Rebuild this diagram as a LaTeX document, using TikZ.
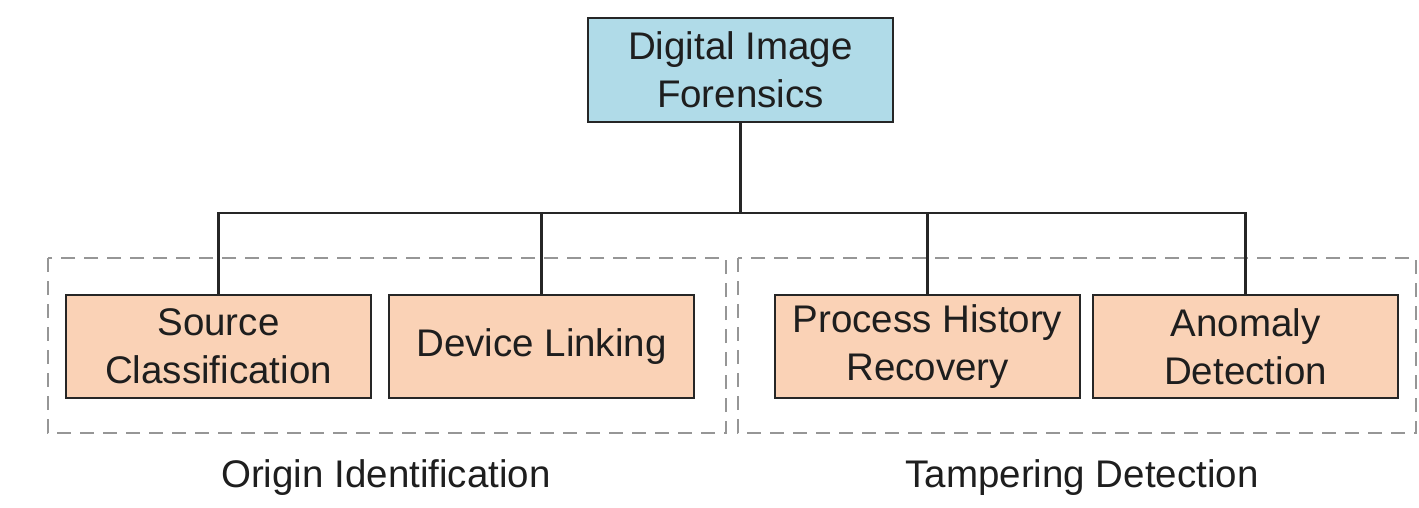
\documentclass[tikz,border=0pt]{standalone}
\usepackage{fontspec}
\setmainfont{Liberation Sans}
\definecolor{topfill}{RGB}{176,219,232}
\definecolor{subfill}{RGB}{250,210,182}
\definecolor{groupgray}{RGB}{150,150,150}
\definecolor{inkc}{RGB}{30,30,30}
\begin{document}
\begin{tikzpicture}[x=1pt,y=-1pt,
  every node/.style={font=\fontsize{38.5}{48}\selectfont,text=inkc},
  topbox/.style={draw=black!85,line width=2.4pt,fill=topfill,minimum width=305pt,minimum height=104pt,align=center,inner sep=0pt},
  subbox/.style={draw=black!85,line width=2.4pt,fill=subfill,minimum width=305pt,minimum height=103pt,align=center,inner sep=0pt},
  groupbox/.style={draw=groupgray,line width=2pt,dash pattern=on 14pt off 9pt},
  link/.style={draw=black!85,line width=2.4pt}]
\useasboundingbox (0,0) rectangle (1419,508);
\draw[groupbox] (48,258) rectangle (726,433);
\draw[groupbox] (738,258) rectangle (1416,433);
\node[topbox] (dif) at (740.5,70) {Digital Image\\Forensics};
\node[subbox] (sc) at (218.5,346.5) {Source\\Classification};
\node[subbox] (dl) at (541.5,346.5) {Device Linking};
\node[subbox] (phr) at (927.5,346.5) {Process History\\Recovery};
\node[subbox] (ad) at (1245.5,346.5) {Anomaly\\Detection};
\coordinate (bus) at (740.5,213);
\draw[link] (dif.south) -- (bus);
\draw[link] (sc.north) |- (bus);
\draw[link] (dl.north) |- (bus);
\draw[link] (phr.north) |- (bus);
\draw[link] (ad.north) |- (bus);
\node (oi) at (386,478) {Origin Identification};
\node (td) at (1082,478) {Tampering Detection};
\end{tikzpicture}
\end{document}
